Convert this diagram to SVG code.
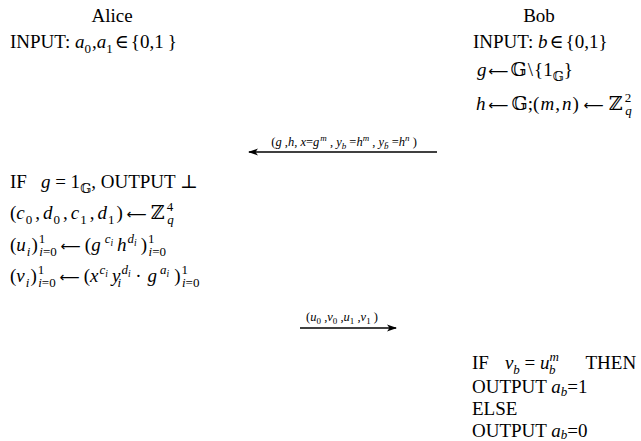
<svg xmlns="http://www.w3.org/2000/svg" width="641" height="441" viewBox="0 0 641 441">
<defs>
<style>
text{font-family:"Liberation Serif","DejaVu Serif",serif;font-size:19px;fill:#000}
.i{font-style:italic}
.s{font-size:13px}
.ss{font-size:9.5px}
.ar{font-family:"DejaVu Sans",sans-serif;font-size:14px}
.lbl{font-size:12.5px}
.ls{font-size:9px}
.conn line{stroke:#000;stroke-width:1.3}
</style>
<marker id="ah" viewBox="0 0 10 10" refX="9" refY="5" markerWidth="10" markerHeight="10" orient="auto-start-reverse" markerUnits="userSpaceOnUse">
<path d="M0,1.5 L10,5 L0,8.5 L2.5,5 Z" fill="#000"/>
</marker>
</defs>
<rect width="641" height="441" fill="#fff"/>
<g id="alice">
<text x="112" y="22" text-anchor="middle">Alice</text>
<text x="10" y="48">INPUT: <tspan class="i">a</tspan><tspan class="s" dy="5">0</tspan><tspan dy="-5" dx="1">,</tspan><tspan class="i">a</tspan><tspan class="s" dy="5">1</tspan><tspan dy="-5" dx="2">∈</tspan><tspan dx="2">{0,1</tspan><tspan dx="4">}</tspan></text>
</g>
<g id="bob">
<text x="539" y="22" text-anchor="middle">Bob</text>
<text x="473" y="48">INPUT: <tspan class="i">b</tspan><tspan dx="2">∈</tspan><tspan dx="2">{0,1}</tspan></text>
<text x="477" y="76"><tspan class="i">g</tspan><tspan class="ar" dx="2">⟵</tspan><tspan dx="2">𝔾</tspan><tspan dx="1">\</tspan><tspan dx="1">{1</tspan><tspan class="s" dy="5">𝔾</tspan><tspan dy="-5">}</tspan></text>
<text x="476" y="110"><tspan class="i">h</tspan><tspan class="ar" dx="3">⟵</tspan><tspan dx="3">𝔾;(</tspan><tspan class="i" dx="1">m</tspan><tspan dx="1">,</tspan><tspan class="i" dx="2">n</tspan><tspan dx="1">)</tspan><tspan class="ar" dx="5">⟵</tspan><tspan dx="5">ℤ</tspan><tspan class="s" dy="-8" dx="2">2</tspan><tspan class="s i" dx="-6" dy="13">q</tspan></text>
</g>
<g id="alice-steps">
<text x="10" y="188">IF<tspan class="i" dx="14">g</tspan> = 1<tspan class="s" dy="5">𝔾</tspan><tspan dy="-5">, OUTPUT ⊥</tspan></text>
<text x="10" y="219">(<tspan class="i">c</tspan><tspan class="s" dy="5" dx="1">0</tspan><tspan dy="-5" dx="3">,</tspan><tspan class="i" dx="3">d</tspan><tspan class="s" dy="5" dx="1">0</tspan><tspan dy="-5" dx="3">,</tspan><tspan class="i" dx="3">c</tspan><tspan class="s" dy="5" dx="1">1</tspan><tspan dy="-5" dx="3">,</tspan><tspan class="i" dx="3">d</tspan><tspan class="s" dy="5" dx="1">1</tspan><tspan dy="-5" dx="2">)</tspan><tspan class="ar" dx="4">⟵</tspan><tspan dx="4">ℤ</tspan><tspan class="s" dy="-8" dx="2">4</tspan><tspan class="s i" dx="-6" dy="13">q</tspan></text>
<text x="10" y="251">(<tspan class="i">u</tspan><tspan class="s i" dy="5" dx="1">i</tspan><tspan dy="-5" dx="1">)</tspan><tspan class="s" dy="-8" dx="1">1</tspan><tspan class="s" dx="-6" dy="13"><tspan class="i">i</tspan>=0</tspan><tspan class="ar" dy="-5" dx="4">⟵</tspan><tspan dx="4">(</tspan><tspan class="i">g</tspan><tspan class="s i" dy="-8" dx="4">c</tspan><tspan class="ss i" dy="3">i</tspan><tspan class="i" dy="5" dx="4">h</tspan><tspan class="s i" dy="-8" dx="1">d</tspan><tspan class="ss i" dy="3">i</tspan><tspan dy="5" dx="4">)</tspan><tspan class="s" dy="-8" dx="1">1</tspan><tspan class="s" dx="-6" dy="13"><tspan class="i">i</tspan>=0</tspan></text>
<text x="10" y="282">(<tspan class="i">v</tspan><tspan class="s i" dy="5" dx="1">i</tspan><tspan dy="-5" dx="1">)</tspan><tspan class="s" dy="-8" dx="1">1</tspan><tspan class="s" dx="-6" dy="13"><tspan class="i">i</tspan>=0</tspan><tspan class="ar" dy="-5" dx="4">⟵</tspan><tspan dx="4">(</tspan><tspan class="i">x</tspan><tspan class="s i" dy="-8" dx="1">c</tspan><tspan class="ss i" dy="3">i</tspan><tspan class="i" dy="5" dx="4">y</tspan><tspan class="s i" dy="-8" dx="1">d</tspan><tspan class="ss i" dy="3">i</tspan><tspan class="s i" dx="-13" dy="10">i</tspan><tspan dx="14" dy="-5">·</tspan><tspan class="i" dx="6">g</tspan><tspan class="s i" dy="-8" dx="3">a</tspan><tspan class="ss i" dy="3">i</tspan><tspan dy="5" dx="5">)</tspan><tspan class="s" dy="-8" dx="1">1</tspan><tspan class="s" dx="-6" dy="13"><tspan class="i">i</tspan>=0</tspan></text>
</g>
<g id="bob-check">
<text x="472" y="369">IF<tspan class="i" dx="16">v</tspan><tspan class="s i" dy="5">b</tspan><tspan dy="-5"> = </tspan><tspan class="i">u</tspan><tspan class="s i" dy="-8">m</tspan><tspan class="s i" dx="-10" dy="13">b</tspan><tspan dx="30" dy="-5">THEN</tspan></text>
<text x="472" y="393">OUTPUT <tspan class="i">a</tspan><tspan class="s i" dy="3">b</tspan><tspan dy="-3">=1</tspan></text>
<text x="472" y="415">ELSE</text>
<text x="472" y="437">OUTPUT <tspan class="i">a</tspan><tspan class="s i" dy="2">b</tspan><tspan dy="-2">=0</tspan></text>
</g>
<g class="conn" id="connectors">
<line x1="249" y1="152" x2="437" y2="152" marker-start="url(#ah)"/>
<text class="lbl" x="344" y="146" text-anchor="middle">(<tspan class="i">g</tspan> ,<tspan class="i">h</tspan>, <tspan class="i">x</tspan>=<tspan class="i">g</tspan><tspan class="ls i" dy="-5" dx="1">m</tspan><tspan dy="5"> , </tspan><tspan class="i">y</tspan><tspan class="ls i" dy="3">b</tspan><tspan dy="-3"> =</tspan><tspan class="i">h</tspan><tspan class="ls i" dy="-5">m</tspan><tspan dy="5"> , </tspan><tspan class="i">y</tspan><tspan class="ls i" dy="3">b̄</tspan><tspan dy="-3"> =</tspan><tspan class="i">h</tspan><tspan class="ls i" dy="-5">n</tspan><tspan dy="5"> )</tspan></text>
<line x1="300" y1="328" x2="396" y2="328" marker-end="url(#ah)"/>
<text class="lbl" x="342" y="321" text-anchor="middle">(<tspan class="i">u</tspan><tspan class="ls" dy="3">0</tspan><tspan dy="-3"> ,</tspan><tspan class="i">v</tspan><tspan class="ls" dy="3">0</tspan><tspan dy="-3"> ,</tspan><tspan class="i">u</tspan><tspan class="ls" dy="3">1</tspan><tspan dy="-3"> ,</tspan><tspan class="i">v</tspan><tspan class="ls" dy="3">1</tspan><tspan dy="-3"> )</tspan></text>
</g>
</svg>
